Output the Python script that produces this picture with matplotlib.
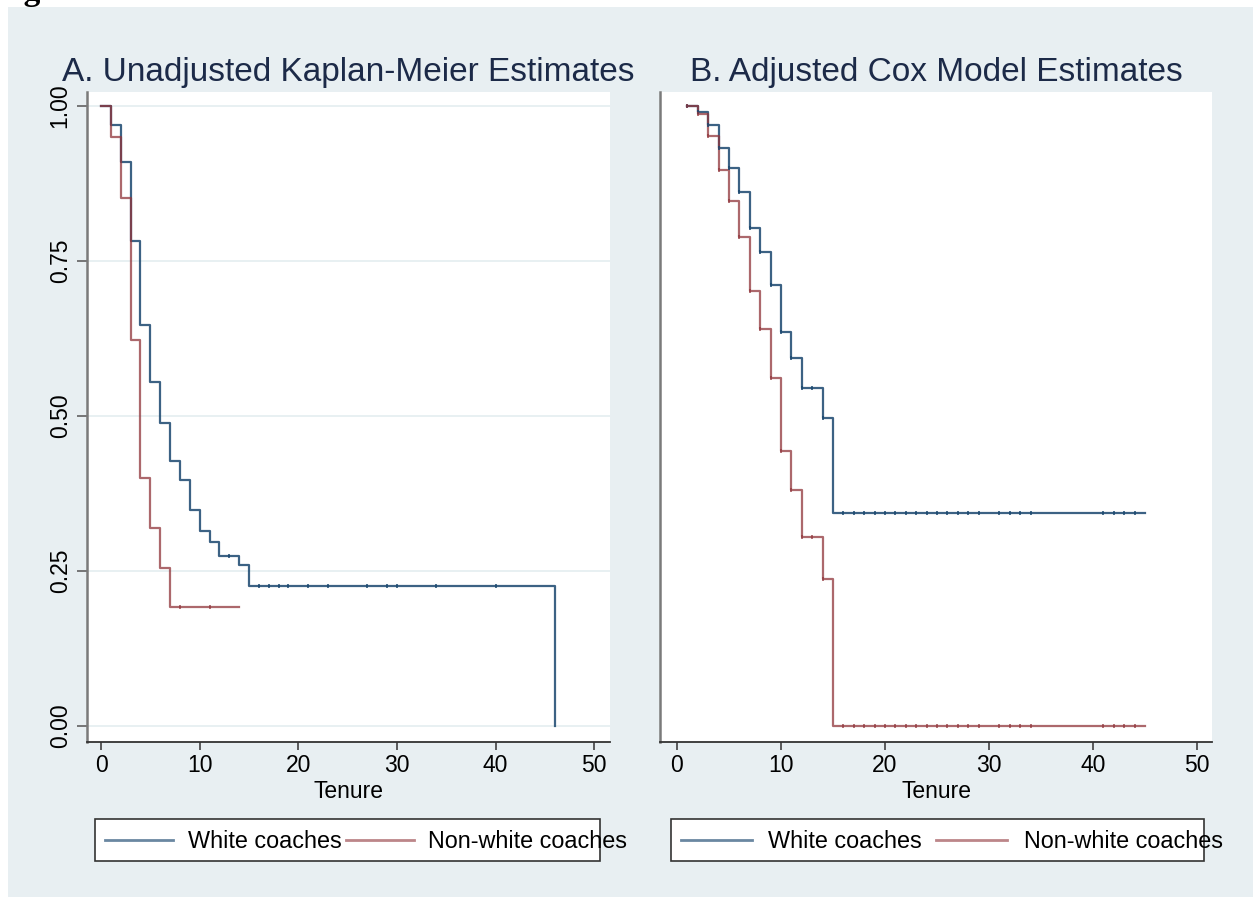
import matplotlib
matplotlib.use("Agg")
import matplotlib.pyplot as plt
import numpy as np
from matplotlib.lines import Line2D
from matplotlib.patches import Rectangle

plt.rcParams["font.family"] = ["Liberation Sans", "DejaVu Sans"]

# Panel A: unadjusted Kaplan-Meier steps (tenure, share surviving)
km_white_time = [0, 1, 2, 3, 4, 5, 6, 7, 8, 9, 10, 11, 12, 14, 15, 46]
km_white_surv = [1.0, 0.969, 0.910, 0.783, 0.647, 0.555, 0.489, 0.427,
                 0.396, 0.349, 0.315, 0.296, 0.274, 0.259, 0.226, 0.0]
km_white_censored = [13, 16, 17, 18, 19, 21, 23, 27, 29, 30, 34, 40]
km_nonwhite_time = [0, 1, 2, 3, 4, 5, 6, 7, 14]
km_nonwhite_surv = [1.0, 0.950, 0.851, 0.622, 0.400, 0.319, 0.255, 0.192, 0.192]
km_nonwhite_censored = [8, 11]

# Panel B: adjusted Cox model steps
cox_time = [1, 2, 3, 4, 5, 6, 7, 8, 9, 10, 11, 12, 13, 14, 15, 45]
cox_white_surv = [1.0, 0.990, 0.969, 0.932, 0.900, 0.861, 0.804, 0.765,
                  0.711, 0.635, 0.593, 0.545, 0.545, 0.497, 0.343, 0.343]
cox_nonwhite_surv = [1.0, 0.987, 0.952, 0.897, 0.846, 0.789, 0.702, 0.641,
                     0.561, 0.444, 0.380, 0.305, 0.305, 0.237, 0.0, 0.0]
cox_censored = [1, 2, 3, 4, 5, 6, 7, 8, 9, 10, 11, 12, 13, 14,
                16, 17, 18, 19, 20, 21, 22, 23, 24, 25, 26, 27, 28, 29,
                31, 32, 33, 34, 41, 42, 43, 44]

y_ticks = [0.0, 0.25, 0.5, 0.75, 1.0]
y_ticklabels = ["0.00", "0.25", "0.50", "0.75", "1.00"]
x_ticks = [0, 10, 20, 30, 40, 50]
series_labels = ["White coaches", "Non-white coaches"]
titles = ["A. Unadjusted Kaplan-Meier Estimates", "B. Adjusted Cox Model Estimates"]

NAVY = "#1a476f"
MAROON = "#90353b"
BG = "#e8eff2"
W, H = 1253, 905


def fx(x):
    return x / W


def fy(y):
    return 1 - y / H


def surv_at(times, surv, t):
    idx = np.searchsorted(times, t, side="right") - 1
    return np.asarray(surv)[idx]


def draw_curve(ax, times, surv, censored, color, alpha):
    ax.step(times, surv, where="post", color=color, lw=1.6, alpha=alpha, zorder=3)
    if censored:
        ax.plot(censored, surv_at(times, surv, censored), ls="none", marker="|",
                ms=2.6, mew=1.3, color=color, alpha=alpha, zorder=4)


fig = plt.figure(figsize=(W / 100, H / 100), dpi=100)
fig.patches.append(Rectangle((fx(8), fy(897)), 1 - fx(8), fy(7) - fy(897),
                             transform=fig.transFigure, facecolor=BG,
                             edgecolor="none", zorder=-10))

# Fragment of the page caption that the reference crop cuts off at the top
fig.text(fx(-6), 1.0, "Figure", fontsize=24, fontweight="bold",
         family="Liberation Serif", va="baseline", ha="left")

ax_a = fig.add_axes([fx(87), fy(742), fx(610) - fx(87), fy(92) - fy(742)])
ax_b = fig.add_axes([fx(660), fy(742), fx(1212) - fx(660), fy(92) - fy(742)])

draw_curve(ax_a, km_white_time, km_white_surv, km_white_censored, NAVY, 0.85)
draw_curve(ax_a, km_nonwhite_time, km_nonwhite_surv, km_nonwhite_censored, MAROON, 0.75)
draw_curve(ax_b, cox_time, cox_white_surv, cox_censored, NAVY, 0.85)
draw_curve(ax_b, cox_time, cox_nonwhite_surv, cox_censored, MAROON, 0.75)

ax_a.set_xlim(-1.42, 51.6)
ax_b.set_xlim(-1.63, 51.44)
for ax, title in zip((ax_a, ax_b), titles):
    ax.set_facecolor("white")
    ax.set_ylim(-0.0258, 1.0226)
    ax.set_xticks(x_ticks)
    ax.set_xlabel("Tenure", fontsize=16.5, labelpad=2)
    ax.set_title(title, fontsize=24, color="#1c2a48", pad=8)
    for side in ("top", "right"):
        ax.spines[side].set_visible(False)
    ax.spines["left"].set_color("#7a7a7a")
    ax.spines["left"].set_linewidth(1.8)
    ax.spines["bottom"].set_color("#333333")
    ax.spines["bottom"].set_linewidth(1.3)
    ax.tick_params(axis="x", length=6, width=1.1, color="#333333",
                   labelsize=16.5, pad=3)

ax_a.set_yticks(y_ticks)
ax_a.set_yticklabels(y_ticklabels)
ax_a.tick_params(axis="y", length=7, width=1.1, color="#555555",
                 labelsize=16.5, labelrotation=90, pad=4)
for lab in ax_a.get_yticklabels():
    lab.set_va("center")
ax_a.yaxis.grid(True, color="#e4edf0", lw=1.2)
ax_a.set_axisbelow(True)
ax_b.set_yticks([])

# Stata-style legends under each panel
legend_layouts = [
    dict(box=(95, 600), lines=[(105, 173), (346, 414)], texts=[188, 428]),
    dict(box=(671, 1204), lines=[(681, 752), (936, 1007)], texts=[768, 1024]),
]
for lay in legend_layouts:
    x0, x1 = lay["box"]
    fig.patches.append(Rectangle((fx(x0), fy(861)), fx(x1) - fx(x0), fy(819) - fy(861),
                                 transform=fig.transFigure, facecolor="white",
                                 edgecolor="#333333", lw=1.2, zorder=1))
    for (l0, l1), tx, color, alpha, label in zip(lay["lines"], lay["texts"],
                                                 (NAVY, MAROON), (0.65, 0.6),
                                                 series_labels):
        fig.lines.append(Line2D([fx(l0), fx(l1)], [fy(840), fy(840)],
                                transform=fig.transFigure, color=color,
                                alpha=alpha, lw=2, zorder=2))
        fig.text(fx(tx), fy(841), label, fontsize=16.8, va="center",
                 ha="left", zorder=3)

fig.savefig("out.png", dpi=100)
